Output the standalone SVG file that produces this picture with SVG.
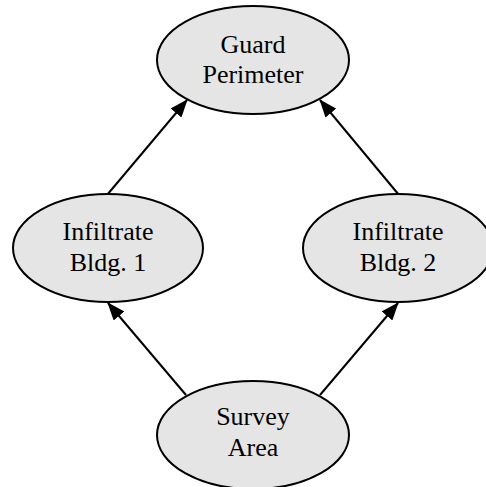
<svg xmlns="http://www.w3.org/2000/svg" width="486" height="487" viewBox="0 0 486 487">
<defs>
<style>
.node ellipse{fill:#e5e5e5;stroke:#000;stroke-width:2}
.node text{font-family:"Liberation Serif","Times New Roman",serif;font-size:26px;fill:#000;text-anchor:middle}
.edge{stroke:#000;stroke-width:2;fill:none;marker-end:url(#ah)}
</style>
<marker id="ah" markerUnits="userSpaceOnUse" markerWidth="18" markerHeight="14" refX="17" refY="7" orient="auto">
<path d="M0,0 L18,7 L0,14 z" fill="#000"/>
</marker>
</defs>
<rect width="486" height="487" fill="#fff"/>
<g id="connectors">
<line class="edge" x1="107" y1="195" x2="187" y2="100"/>
<line class="edge" x1="399" y1="195" x2="320" y2="100"/>
<line class="edge" x1="186" y1="395" x2="108" y2="303"/>
<line class="edge" x1="320" y1="395" x2="398" y2="303"/>
</g>
<g id="guard-perimeter" class="node">
<ellipse cx="253" cy="60" rx="96" ry="54"/>
<text x="253" y="53">Guard</text>
<text x="253" y="83">Perimeter</text>
</g>
<g id="infiltrate-bldg-1" class="node">
<ellipse cx="108" cy="248" rx="95" ry="54"/>
<text x="108" y="240">Infiltrate</text>
<text x="108" y="271">Bldg. 1</text>
</g>
<g id="infiltrate-bldg-2" class="node">
<ellipse cx="398" cy="248" rx="95" ry="54"/>
<text x="398" y="240">Infiltrate</text>
<text x="398" y="271">Bldg. 2</text>
</g>
<g id="survey-area" class="node">
<ellipse cx="253" cy="435" rx="96" ry="54"/>
<text x="253" y="425">Survey</text>
<text x="253" y="456">Area</text>
</g>
</svg>
